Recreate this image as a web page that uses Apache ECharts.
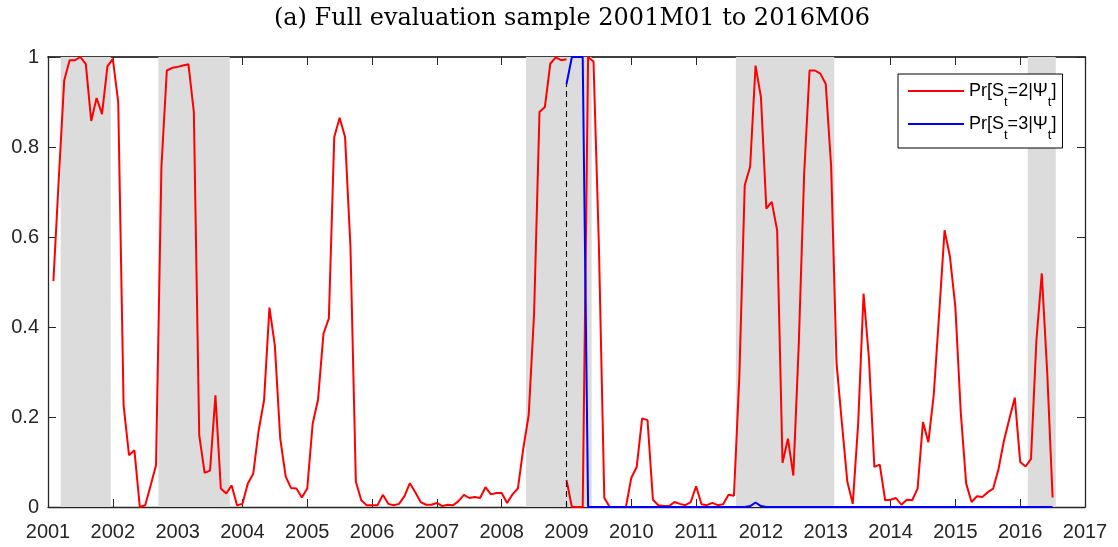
<!DOCTYPE html>
<html>
<head>
<meta charset="utf-8">
<script src="https://cdn.jsdelivr.net/npm/echarts@6/dist/echarts.min.js"></script>
<style>
html,body{margin:0;padding:0;background:#fff;}
#chart{width:1118px;height:547px;}
</style>
</head>
<body>
<div id="chart"></div>
<script>
// Monthly observations, 2001M01 (index 1) to 2016M06 (index 186); x = 2001 + index/12
var titleText = '(a) Full evaluation sample 2001M01 to 2016M06';
var xTickYears = [2001, 2002, 2003, 2004, 2005, 2006, 2007, 2008, 2009, 2010, 2011, 2012, 2013, 2014, 2015, 2016, 2017];
var yTicks = [0, 0.2, 0.4, 0.6, 0.8, 1];

// Pr[S_t=2|Psi_t], first sub-sample: months 1..96 (2001M01..2008M12)
var red1Start = 1;
var red1 = [
  0.502, 0.73, 0.948, 0.993, 0.993, 1.0, 0.984, 0.858, 0.909, 0.873, 0.979, 0.996,
  0.9, 0.226, 0.115, 0.126, 0.0, 0.004, 0.048, 0.093, 0.756, 0.97, 0.976, 0.978,
  0.981, 0.984, 0.878, 0.159, 0.076, 0.081, 0.248, 0.041, 0.03, 0.048, 0.004, 0.007,
  0.052, 0.074, 0.17, 0.237, 0.443, 0.359, 0.152, 0.068, 0.042, 0.041, 0.021, 0.041,
  0.185, 0.239, 0.385, 0.419, 0.822, 0.865, 0.822, 0.578, 0.056, 0.015, 0.004, 0.004,
  0.004, 0.027, 0.007, 0.004, 0.007, 0.024, 0.053, 0.033, 0.011, 0.005, 0.005, 0.009,
  0.002, 0.005, 0.004, 0.013, 0.027, 0.02, 0.022, 0.02, 0.044, 0.028, 0.031, 0.031,
  0.009, 0.028, 0.041, 0.13, 0.204, 0.43, 0.878, 0.889, 0.985, 0.999, 0.993, 0.995
];

// Pr[S_t=2|Psi_t], second sub-sample: months 96..186 (2008M12..2016M06)
var red2Start = 96;
var red2 = [
  0.06, 0.0, 0.0, 0.0, 1.0, 0.99, 0.58, 0.02, 0.0, 0.0, 0.0, 0.0,
  0.065, 0.089, 0.197, 0.193, 0.016, 0.004, 0.002, 0.002, 0.011, 0.007, 0.004, 0.011,
  0.046, 0.006, 0.004, 0.009, 0.004, 0.006, 0.027, 0.025, 0.29, 0.715, 0.756, 0.981,
  0.911, 0.663, 0.678, 0.615, 0.098, 0.152, 0.07, 0.36, 0.74, 0.97, 0.97, 0.963,
  0.94, 0.756, 0.319, 0.185, 0.056, 0.007, 0.185, 0.474, 0.33, 0.089, 0.094, 0.015,
  0.016, 0.02, 0.005, 0.016, 0.015, 0.041, 0.189, 0.144, 0.25, 0.43, 0.615, 0.556,
  0.444, 0.21, 0.052, 0.011, 0.024, 0.022, 0.033, 0.041, 0.085, 0.148, 0.196, 0.243,
  0.1, 0.09, 0.107, 0.37, 0.519, 0.3, 0.021
];

// Pr[S_t=3|Psi_t], second sub-sample: months 96..186
var blueStart = 96;
var blue = [
  0.94, 1.0, 1.0, 1.0, 0.0, 0.0, 0.0, 0.0, 0.0, 0.0, 0.0, 0.0,
  0.0, 0.0, 0.0, 0.0, 0.0, 0.0, 0.0, 0.0, 0.0, 0.0, 0.0, 0.0,
  0.0, 0.0, 0.0, 0.0, 0.0, 0.0, 0.0, 0.0, 0.0, 0.0, 0.002, 0.01,
  0.002, 0.0, 0.0, 0.0, 0.0, 0.0, 0.0, 0.0, 0.0, 0.0, 0.0, 0.0,
  0.0, 0.0, 0.0, 0.0, 0.0, 0.0, 0.0, 0.0, 0.0, 0.0, 0.0, 0.0,
  0.0, 0.0, 0.0, 0.0, 0.0, 0.0, 0.0, 0.0, 0.0, 0.0, 0.0, 0.0,
  0.0, 0.0, 0.0, 0.0, 0.0, 0.0, 0.0, 0.0, 0.0, 0.0, 0.0, 0.0,
  0.0, 0.0, 0.0, 0.0, 0.0, 0.0, 0.0
];

// Shaded (recession) periods, in fractional years
var shadeStart = [2001.196, 2002.703, 2008.374, 2011.614, 2016.117];
var shadeEnd   = [2001.968, 2003.804, 2009.388, 2013.132, 2016.549];

// Vertical dashed marker (sample split)
var splitX = 2009.0;
var splitTop = 0.94;

function toPairs(start, arr) {
  return arr.map(function (v, i) { return [2001 + (start + i) / 12, v]; });
}

var axisColor = '#262626';
var sans = '"Liberation Sans", Arial, Helvetica, sans-serif';

var chart = echarts.init(document.getElementById('chart'), null, {renderer: 'canvas'});

var areas = shadeStart.map(function (s, i) {
  return [{xAxis: s}, {xAxis: shadeEnd[i]}];
});

var option = {
  animation: false,
  backgroundColor: '#fff',
  title: {
    text: titleText,
    left: 567,
    top: 2,
    textAlign: 'center',
    textStyle: {fontFamily: '"DejaVu Serif", serif', fontWeight: 'normal', fontSize: 24, color: '#000'}
  },
  grid: {left: 48, right: 33, top: 57, bottom: 40, containLabel: false},
  legend: {
    orient: 'vertical',
    left: 898,
    top: 74,
    data: [{name: 'p2', icon: 'rect'}, {name: 'p3', icon: 'rect'}],
    backgroundColor: '#fff',
    borderColor: '#000',
    borderWidth: 1,
    borderRadius: 0,
    padding: [8, 6, 6, 10],
    itemWidth: 56,
    itemHeight: 2,
    itemGap: 6,
    selectedMode: false,
    formatter: function (name) {
      var k = name === 'p2' ? '2' : '3';
      return '{n|Pr[S}{s|t}{n|=' + k + '|\u03A8}{s|t}{n|]}';
    },
    textStyle: {
      color: '#000',
      fontFamily: sans,
      rich: {
        n: {fontSize: 18, fontFamily: sans, color: '#000', lineHeight: 24, verticalAlign: 'middle'},
        s: {fontSize: 13, fontFamily: sans, color: '#000', lineHeight: 24, verticalAlign: 'bottom', padding: [0, 0, -6, 0]}
      }
    }
  },
  xAxis: [
    {
      type: 'value', position: 'bottom', min: 2001, max: 2017, interval: 1,
      axisLine: {show: true, onZero: false, lineStyle: {color: axisColor, width: 1.3}},
      axisTick: {show: true, inside: true, length: 8, lineStyle: {color: axisColor, width: 1}},
      axisLabel: {
        show: true, fontSize: 20, fontFamily: sans, color: axisColor, margin: 15,
        formatter: function (v) { return xTickYears.indexOf(v) >= 0 ? String(v) : ''; }
      },
      splitLine: {show: false}
    },
    {
      type: 'value', position: 'top', min: 2001, max: 2017, interval: 1,
      axisLine: {show: true, onZero: false, lineStyle: {color: '#000', width: 1.6}},
      axisTick: {show: true, inside: true, length: 8, lineStyle: {color: axisColor, width: 1}},
      axisLabel: {show: false},
      splitLine: {show: false}
    }
  ],
  yAxis: [
    {
      type: 'value', position: 'left', min: 0, max: 1, interval: 0.2,
      axisLine: {show: true, onZero: false, lineStyle: {color: axisColor, width: 1.3}},
      axisTick: {show: true, inside: true, length: 8, lineStyle: {color: axisColor, width: 1}},
      axisLabel: {
        show: true, fontSize: 20, fontFamily: sans, color: axisColor, margin: 9,
        formatter: function (v) {
          for (var i = 0; i < yTicks.length; i++) {
            if (Math.abs(yTicks[i] - v) < 1e-9) return String(yTicks[i]);
          }
          return '';
        }
      },
      splitLine: {show: false}
    },
    {
      type: 'value', position: 'right', min: 0, max: 1, interval: 0.2,
      axisLine: {show: true, onZero: false, lineStyle: {color: axisColor, width: 1.3}},
      axisTick: {show: true, inside: true, length: 8, lineStyle: {color: axisColor, width: 1}},
      axisLabel: {show: false},
      splitLine: {show: false}
    }
  ],
  series: [
    {
      name: 'shade', type: 'line', data: [], silent: true, z: 1,
      markArea: {
        silent: true,
        itemStyle: {color: '#dcdcdc', opacity: 1},
        data: areas
      }
    },
    {
      name: 'split', type: 'line', data: [], silent: true, z: 2,
      markLine: {
        silent: true,
        symbol: ['none', 'none'],
        label: {show: false},
        lineStyle: {color: '#000', type: [6, 4], width: 1.1},
        data: [[{coord: [splitX, 0]}, {coord: [splitX, splitTop]}]]
      }
    },
    {
      name: 'p2', type: 'line', data: toPairs(red1Start, red1), symbol: 'none', z: 3,
      lineStyle: {color: '#ff0000', width: 2}, itemStyle: {color: '#ff0000'}
    },
    {
      name: 'p2', type: 'line', data: toPairs(red2Start, red2), symbol: 'none', z: 3,
      lineStyle: {color: '#ff0000', width: 2}, itemStyle: {color: '#ff0000'}
    },
    {
      name: 'p3', type: 'line', data: toPairs(blueStart, blue), symbol: 'none', z: 4,
      lineStyle: {color: '#0000ff', width: 2}, itemStyle: {color: '#0000ff'}
    }
  ]
};

chart.setOption(option);
</script>
</body>
</html>
